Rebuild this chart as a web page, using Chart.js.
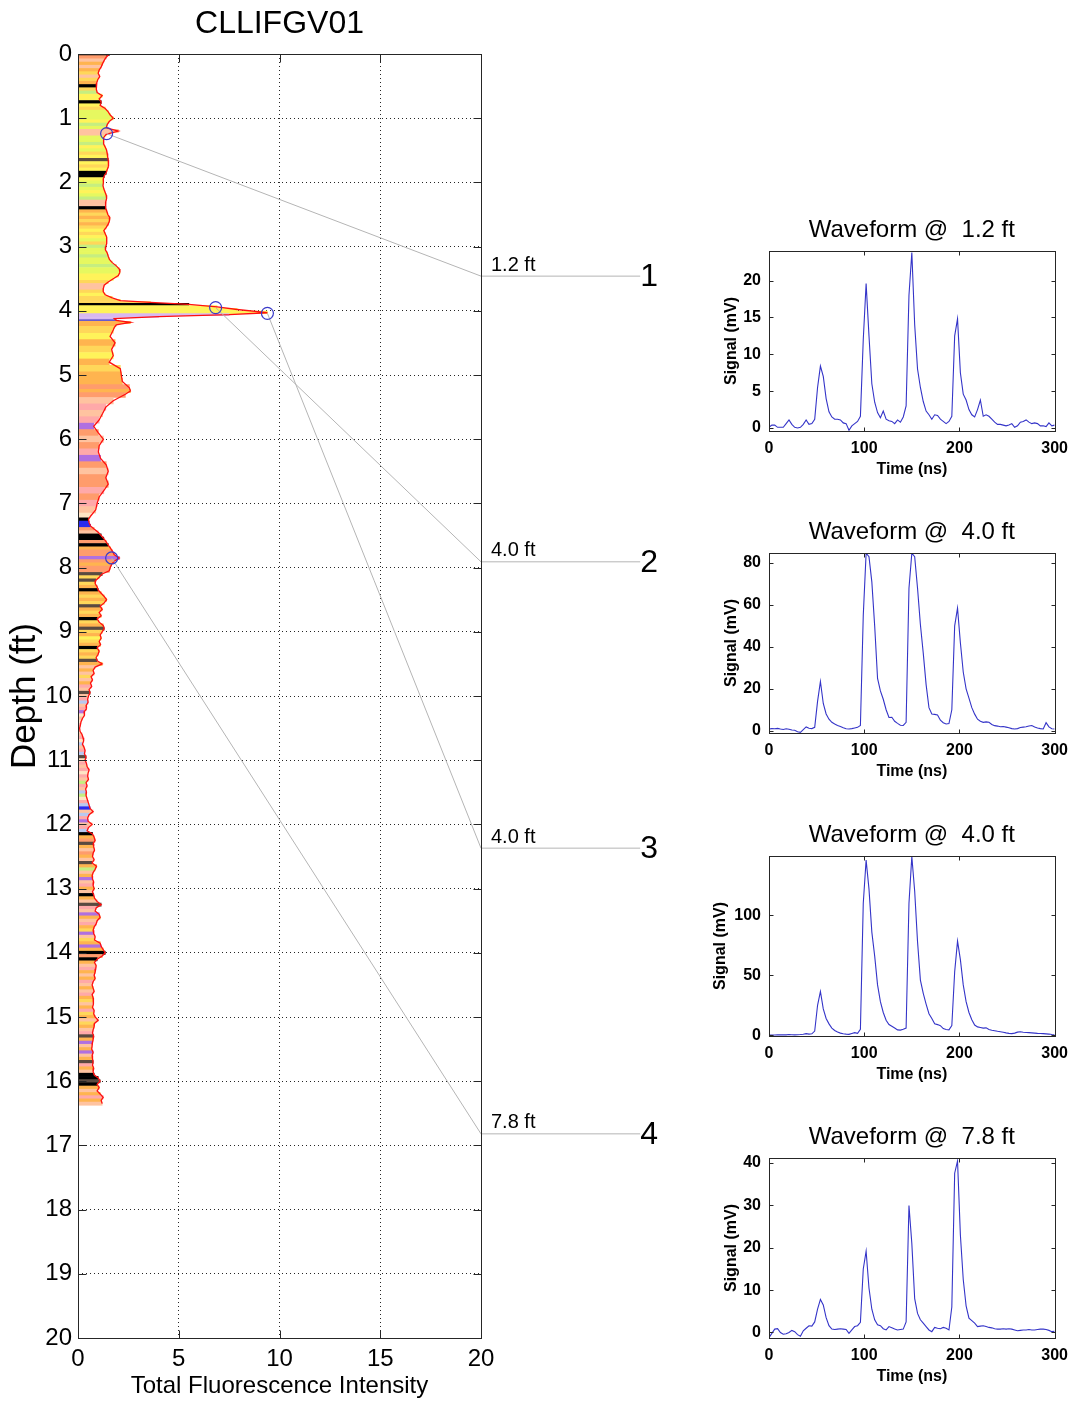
<!DOCTYPE html>
<html><head><meta charset="utf-8">
<script src="https://cdn.jsdelivr.net/npm/chart.js@4.4.1/dist/chart.umd.min.js"></script>
<style>
html,body{margin:0;padding:0;background:#fff;width:1076px;height:1401px;overflow:hidden;position:relative}
canvas{position:absolute;display:block}
</style></head><body>
<canvas id="main" width="680" height="1401" style="left:0;top:0"></canvas>
<canvas id="w0" width="376" height="272" style="left:700px;top:209px"></canvas>
<canvas id="w1" width="376" height="272" style="left:700px;top:511px"></canvas>
<canvas id="w2" width="376" height="272" style="left:700px;top:814px"></canvas>
<canvas id="w3" width="376" height="272" style="left:700px;top:1116px"></canvas>
<script>
// ---------------- DATA ----------------
const depth = [
0,0.05,0.1,0.15,0.2,0.25,0.3,0.35,0.4,0.45,
0.5,0.55,0.6,0.65,0.7,0.75,0.8,0.85,0.9,0.95,
1,1.05,1.1,1.15,1.2,1.25,1.3,1.35,1.4,1.45,
1.5,1.55,1.6,1.65,1.7,1.75,1.8,1.85,1.9,1.95,
2,2.05,2.1,2.15,2.2,2.25,2.3,2.35,2.4,2.45,
2.5,2.55,2.6,2.65,2.7,2.75,2.8,2.85,2.9,2.95,
3,3.05,3.1,3.15,3.2,3.25,3.3,3.35,3.4,3.45,
3.5,3.55,3.6,3.65,3.7,3.75,3.8,
3.84,3.87,3.9,3.94,3.98,4.03,4.06,4.09,4.12,4.15,4.18,4.22,4.26,
4.3,4.4,4.5,4.6,4.7,4.8,4.9,5,5.1,5.2,5.25,5.3,5.4,5.5,5.6,5.7,5.8,5.9,6,6.1,
6.2,6.3,6.4,6.5,6.6,6.7,6.8,6.9,7,7.1,7.2,7.25,7.3,7.35,7.4,7.45,
7.5,7.55,7.6,7.65,7.7,7.75,7.8,7.85,7.9,7.95,8,8.05,8.1,8.15,8.2,8.25,8.3,8.35,8.4,8.45,
8.5,8.55,8.6,8.65,8.7,8.75,8.8,8.85,8.9,8.95,9,9.05,9.1,9.15,9.2,9.25,9.3,9.35,9.4,9.45,
9.5,9.55,9.6,9.65,9.7,9.75,9.8,9.85,9.9,9.95,10,10.05,10.1,10.15,10.2,10.25,10.3,10.35,10.4,10.45,
10.5,10.55,10.6,10.65,10.7,10.75,10.8,10.85,10.9,10.95,11,11.05,11.1,11.15,11.2,11.25,11.3,11.35,11.4,11.45,
11.5,11.55,11.6,11.65,11.7,11.75,11.8,11.85,11.9,11.95,12,12.05,12.1,12.15,12.2,12.25,12.3,12.35,12.4,12.45,
12.5,12.55,12.6,12.65,12.7,12.75,12.8,12.85,12.9,12.95,13,13.05,13.1,13.15,13.2,13.25,13.3,13.35,13.4,13.45,
13.5,13.55,13.6,13.65,13.7,13.75,13.8,13.85,13.9,13.95,14,14.05,14.1,14.15,14.2,14.25,14.3,14.35,14.4,14.45,
14.5,14.55,14.6,14.65,14.7,14.75,14.8,14.85,14.9,14.95,15,15.05,15.1,15.15,15.2,15.25,15.3,15.35,15.4,15.45,
15.5,15.55,15.6,15.65,15.7,15.75,15.8,15.85,15.9,15.95,16,16.05,16.1,16.15,16.2,16.25,16.3,16.35
];
const intensity = [
1.55,1.40,1.30,1.22,1.15,1.05,1.00,1.08,0.98,0.93,
0.92,0.90,0.95,1.20,1.05,1.15,1.10,1.35,1.50,1.60,
1.75,1.55,1.45,1.40,2.00,1.40,1.28,1.26,1.28,1.35,
1.42,1.45,1.47,1.50,1.52,1.51,1.45,1.40,1.30,1.25,
1.26,1.24,1.28,1.34,1.40,1.42,1.38,1.36,1.38,1.43,
1.48,1.58,1.56,1.50,1.40,1.28,1.35,1.42,1.43,1.42,
1.38,1.36,1.45,1.50,1.56,1.70,1.90,2.05,2.08,2.00,
1.75,1.50,1.30,1.26,1.25,1.35,1.70,
2.10,3.60,5.50,6.90,7.90,9.40,7.50,4.00,1.80,1.90,2.60,1.90,1.80,
1.75,1.59,1.84,1.67,1.75,1.55,2.10,2.15,2.20,2.55,2.60,2.35,1.75,1.38,1.22,1.05,0.78,1.01,1.26,1.05,
1.01,1.12,1.40,1.50,1.38,1.50,1.28,1.05,0.95,0.88,0.62,0.52,0.55,0.62,0.80,1.00,
1.15,1.28,1.40,1.50,1.62,1.72,1.80,2.05,1.80,1.67,1.60,1.55,1.20,1.05,0.88,0.85,0.95,1.00,1.15,1.30,
1.42,1.30,1.10,1.20,1.05,1.15,0.95,1.05,1.25,1.30,1.20,1.10,1.15,1.05,1.12,0.95,1.05,1.00,0.90,0.95,
1.20,0.85,0.75,0.80,0.65,0.72,0.62,0.68,0.55,0.60,0.52,0.48,0.50,0.40,0.42,0.30,0.32,0.22,0.15,0.12,
0.08,0.10,0.20,0.25,0.28,0.22,0.30,0.35,0.32,0.40,0.35,0.42,0.45,0.55,0.50,0.48,0.52,0.40,0.45,0.38,
0.42,0.40,0.45,0.50,0.55,0.60,0.75,0.55,0.48,0.50,0.70,0.52,0.45,0.72,0.80,0.85,0.75,0.78,0.82,0.75,
0.72,0.80,0.70,0.92,0.85,0.75,0.70,0.72,0.78,0.75,0.80,0.72,0.78,0.82,0.95,1.15,0.90,0.85,1.05,1.10,
0.95,0.90,0.80,0.75,0.78,0.85,0.82,1.10,1.15,1.25,1.35,1.20,0.95,0.82,0.90,0.88,0.85,0.80,0.85,0.75,
0.70,0.75,0.80,0.70,0.75,0.78,0.75,0.72,0.80,0.78,0.85,1.00,0.82,0.80,0.75,0.72,0.78,0.75,0.72,0.70,
0.68,0.75,0.70,0.72,0.75,0.72,0.78,0.75,0.80,1.00,1.10,0.95,1.05,0.95,1.10,1.25,1.15,1.20
];
// stripe class per depth sample (colour legend of the waveform type)
const stripeClass = (
"KSPOPOGPGO"+"KGNYYKYGLL"+"LYNLPPLLNY"+"LGYDYGYKKY"+"LNLYLNPPKO"+"GOGOGYGYLG"+"NLLNLLNLLY"+"YGPPGYG"+
"GGKYYYVVVUOOG"+
"GYOGYOGOOS"+"OSPRPRMSPS"+"RMSPSSRSRP"+"WKBBSP"+
"KKSKOSSMSOSSDGDGOKOG"+"OGDOGOKGODGOYGOKGOGD"+"OPOPGPORPDPRCPRMWPWR"+"WWPRWCPRCDWRPRWRPNRP"+
"CNWRCBPCRMPRCKOSDOPS"+"OPDONPOMPROPKOPDRPMO"+"PROGMPGOMOKSKOPROPOR"+"POPROGPORGOPGOPRDOMP"+
"OMPODROPKKDKOPOROP").split('');

const sampleDepths = [1.24, 3.95, 4.04, 7.85];
const sampleIntensity = [1.42, 6.83, 9.40, 1.67];
const sampleNames = ['1.2 ft', '4.0 ft', '4.0 ft', '7.8 ft'];
const calloutDepths = [3.46, 7.91, 12.37, 16.82];
const calloutEndX = 27.9;

const time = [
0,3,6,9,12,15,18,21,24,27,30,33,36,39,42,45,48,51,54,57,
60,63,66,69,72,75,78,81,84,87,90,93,96,99,102,105,108,111,114,117,
120,123,126,129,132,135,138,141,144,147,150,153,156,159,162,165,168,171,174,177,
180,183,186,189,192,195,198,201,204,207,210,213,216,219,222,225,228,231,234,237,
240,243,246,249,252,255,258,261,264,267,270,273,276,279,282,285,288,291,294,297,300
];
const wave1 = [
0.1,0.4,0.4,0.1,0.1,0.1,0.6,1.1,0.5,0.1,
0.0,0.1,0.5,1.1,0.5,0.6,1.2,5.5,8.4,7.0,
4.0,2.2,1.5,1.2,1.2,1.1,0.7,0.6,-0.3,0.3,
0.6,0.9,1.6,12.0,19.6,12.5,6.0,3.5,2.1,1.4,
2.3,1.2,1.0,0.9,0.6,1.1,0.8,1.5,3.0,18.0,
23.8,14.0,8.0,5.5,3.6,2.3,1.8,1.2,1.8,1.7,
1.2,0.9,0.6,0.9,1.6,12.5,14.8,7.5,4.6,3.8,
2.5,1.8,1.5,2.5,3.8,1.6,1.8,1.6,1.2,0.8,
0.5,0.5,0.4,0.3,0.4,0.6,0.1,0.3,0.8,0.9,
1.1,0.8,0.6,0.7,0.6,0.3,0.3,0.2,0.7,0.3,
0.4];
const wave2 = [
0.8,1.0,0.9,1.1,0.8,0.6,0.9,0.7,0.3,0.2,
-0.5,-0.8,0.5,1.8,1.2,1.0,1.6,14.0,23.5,13.0,
8.0,5.5,4.0,3.2,2.5,2.0,1.4,0.9,0.8,1.0,
1.3,1.6,2.5,55.0,84.7,83.0,71.0,50.0,25.0,19.0,
15.0,10.0,6.3,6.4,4.5,3.5,2.6,2.5,4.0,68.0,
84.7,83.0,68.0,50.7,37.0,22.0,11.0,8.0,7.8,7.5,
5.0,3.8,3.2,3.4,10.0,50.0,58.5,42.0,28.0,20.0,
15.5,11.0,7.9,5.5,4.5,4.0,4.2,4.0,3.0,2.4,
2.2,1.9,2.0,1.7,1.4,1.0,0.8,1.0,1.5,1.7,
1.9,2.2,2.5,1.8,1.3,1.0,0.8,3.8,1.8,0.9,
0.8];
const wave3 = [
0.2,0.1,0.2,0.4,0.3,0.5,0.3,0.6,0.4,0.3,
0.5,0.6,0.8,1.4,1.0,1.2,3.5,25.0,36.5,22.0,
14.0,9.5,6.0,4.0,2.8,1.8,1.3,1.0,0.8,1.5,
2.2,1.6,5.0,110.0,146.0,122.0,86.0,66.0,42.0,28.0,
19.0,12.5,9.0,7.5,6.0,4.5,4.3,5.0,6.0,110.0,
149.0,120.0,78.0,46.0,35.0,26.0,18.0,14.0,9.5,8.9,
8.0,5.6,4.8,4.5,8.0,53.0,78.5,63.0,42.0,28.0,
19.0,13.0,8.5,7.0,6.5,6.0,6.2,4.8,4.2,3.8,
3.3,2.9,2.5,2.0,1.6,1.4,1.8,2.6,2.9,2.5,
2.3,2.2,2.0,1.8,1.6,1.5,1.4,1.2,1.0,0.6,
0.5];
const wave4 = [
-1.2,-0.2,0.8,0.9,0.0,-0.4,-0.3,0.0,0.5,0.2,
-0.5,-0.9,0.4,1.0,1.6,1.5,2.5,5.5,7.8,6.5,
3.5,1.6,0.8,0.7,0.8,0.9,0.8,0.7,-0.2,0.6,
1.4,1.6,2.4,15.0,19.2,10.5,5.5,3.0,1.8,1.6,
0.9,0.6,1.4,1.1,0.8,0.6,0.7,0.8,2.5,30.0,
21.0,8.0,4.5,3.0,2.2,1.4,0.6,0.2,1.2,1.0,
0.9,1.2,1.0,0.6,6.0,37.6,40.5,23.0,12.5,6.3,
3.4,2.8,2.2,1.4,1.5,1.6,1.4,1.2,1.1,0.9,
0.8,0.8,0.9,0.8,0.9,0.8,0.6,0.4,0.5,0.6,
0.6,0.7,0.6,0.6,0.7,0.8,0.8,0.7,0.5,0.2,
0.3];
const waves = [wave1, wave2, wave3, wave4];
const waveYMin = [-0.4, -1.1, -0.6, -1.3];
const waveYMax = [24, 84.8, 149.4, 41.2];
const waveYTicks = [
  [0, 5, 10, 15, 20],
  [0, 20, 40, 60, 80],
  [0, 50, 100],
  [0, 10, 20, 30, 40]
];
const timeTicks = [0, 100, 200, 300];

// ---------------- STYLE ----------------
const palette = {
  K:'#000000', Y:'#FFF35A', G:'#FFD75A', L:'#E6F860', N:'#C6EE80', O:'#FFB44F',
  S:'#FF9C6C', P:'#FFC3A0', R:'#FFA9A9', M:'#B070E0', U:'#6A5ACD', B:'#2A2AF0',
  V:'#D8B8F0', C:'#B8C8F0', D:'#5a4a40', W:'#FFE4C4'
};
const signalTitlePad = [22, 22, 11, 22];
const FONT = "'Liberation Sans', Arial, Helvetica, sans-serif";
Chart.defaults.font.family = FONT;
Chart.defaults.color = '#000';

const framePlugin = {
  id: 'frame',
  afterDatasetsDraw(chart, args, opts) {
    const {ctx, chartArea: a, scales: {x, y}} = chart;
    const L = opts.tick || 5;
    ctx.save();
    ctx.strokeStyle = '#262626';
    ctx.lineWidth = 1;
    const l = Math.round(a.left) + 0.5, t = Math.round(a.top) + 0.5;
    const r = Math.round(a.right) + 0.5, b = Math.round(a.bottom) + 0.5;
    ctx.beginPath();
    x.ticks.forEach(tk => {
      const px = Math.round(x.getPixelForValue(tk.value)) + 0.5;
      ctx.moveTo(px, t); ctx.lineTo(px, t + L);
      ctx.moveTo(px, b); ctx.lineTo(px, b - L);
    });
    y.ticks.forEach(tk => {
      const py = Math.round(y.getPixelForValue(tk.value)) + 0.5;
      ctx.moveTo(l, py); ctx.lineTo(l + L, py);
      ctx.moveTo(r, py); ctx.lineTo(r - L, py);
    });
    ctx.stroke();
    ctx.strokeRect(l, t, r - l, b - t);
    ctx.restore();
  }
};

const calloutPlugin = {
  id: 'callouts',
  afterDraw(chart) {
    const {ctx, scales: {x, y}} = chart;
    ctx.save();
    ctx.fillStyle = '#000';
    ctx.textBaseline = 'middle';
    calloutDepths.forEach((d, i) => {
      const py = y.getPixelForValue(d);
      ctx.font = '20px ' + FONT;
      ctx.textAlign = 'left';
      ctx.fillText(sampleNames[i], x.getPixelForValue(x.max) + 10, py - 11);
      ctx.font = '32px ' + FONT;
      ctx.textAlign = 'center';
      ctx.fillText(String(i + 1), x.getPixelForValue(calloutEndX) + 9, py + 1);
    });
    ctx.restore();
  }
};

// ---------------- MAIN CHART ----------------
const datasets = [];
datasets.push({
  type: 'line', indexAxis: 'y', showLine: false,
  data: sampleDepths.map((d, i) => ({x: sampleIntensity[i], y: d})),
  pointRadius: 6, pointBorderWidth: 1.2, pointBorderColor: '#3a3ac8',
  pointBackgroundColor: 'rgba(0,0,0,0)'
});
calloutDepths.forEach((cd, i) => {
  datasets.push({
    type: 'line', indexAxis: 'y', clip: false,
    data: [{x: sampleIntensity[i], y: sampleDepths[i]}, {x: 20, y: cd}, {x: calloutEndX, y: cd}],
    borderColor: '#b5b5b5', borderWidth: 1, pointRadius: 0, tension: 0
  });
});
datasets.push({
  type: 'line', indexAxis: 'y',
  data: depth.map((d, i) => ({x: intensity[i], y: d})),
  borderColor: '#ff1010', borderWidth: 1.3, pointRadius: 0, tension: 0
});
datasets.push({
  type: 'bar', indexAxis: 'y',
  data: depth.map((d, i) => ({x: intensity[i], y: d})),
  backgroundColor: stripeClass.map(c => palette[c]),
  borderWidth: 0, barThickness: 'flex', categoryPercentage: 1, barPercentage: 1
});

new Chart(document.getElementById('main'), {
  type: 'bar',
  data: { datasets },
  options: {
    indexAxis: 'y', responsive: false, animation: false, events: [],
    layout: { padding: { left: 0, right: 199, top: 0, bottom: 0 } },
    plugins: {
      legend: { display: false }, tooltip: { enabled: false },
      title: { display: true, text: 'CLLIFGV01', fullSize: false, color: '#000',
               font: { size: 32, weight: 'normal' }, padding: { top: 4.8, bottom: 10.8 } },
      frame: { tick: 8 }
    },
    scales: {
      x: {
        type: 'linear', position: 'bottom', min: 0, max: 20, offset: false,
        ticks: { stepSize: 5, font: { size: 24 }, padding: 7, maxRotation: 0, color: '#000' },
        grid: { color: 'rgba(0,0,0,0.85)', lineWidth: 1, drawTicks: false, offset: false, borderDash: [1, 3] },
        border: { display: false, dash: [1, 3] },
        title: { display: true, text: 'Total Fluorescence Intensity', font: { size: 24 }, color: '#000', padding: { top: 0, bottom: 0 } },
        afterFit: s => { s.height = 63; }
      },
      y: {
        type: 'linear', position: 'left', min: 0, max: 20, reverse: true, offset: false,
        ticks: { stepSize: 1, font: { size: 24 }, padding: 6, color: '#000' },
        grid: { color: 'rgba(0,0,0,0.85)', lineWidth: 1, drawTicks: false, offset: false, borderDash: [1, 3] },
        border: { display: false, dash: [1, 3] },
        title: { display: true, text: 'Depth (ft)', font: { size: 35 }, color: '#000', padding: { top: 4, bottom: 0 } },
        afterFit: s => { s.width = 78; }
      }
    }
  },
  plugins: [framePlugin, calloutPlugin]
});

// ---------------- WAVEFORM CHARTS ----------------
waves.forEach((w, i) => {
  new Chart(document.getElementById('w' + i), {
    type: 'line',
    data: { datasets: [{
      data: time.map((t, k) => ({x: t, y: w[k]})),
      borderColor: '#3434c8', borderWidth: 1.1, pointRadius: 0, tension: 0
    }] },
    options: {
      responsive: false, animation: false, events: [],
      layout: { padding: { left: 0, right: 19, top: 0, bottom: 0 } },
      plugins: {
        legend: { display: false }, tooltip: { enabled: false },
        title: { display: true, text: 'Waveform @  ' + sampleNames[i], fullSize: false, color: '#000',
                 font: { size: 24, weight: 'normal' }, padding: { top: 6.6, bottom: 6.6 } },
        frame: { tick: 4 }
      },
      scales: {
        x: {
          type: 'linear', min: 0, max: 300,
          afterBuildTicks: s => { s.ticks = timeTicks.map(v => ({value: v})); },
          ticks: { font: { size: 16, weight: 'bold' }, padding: 8, maxRotation: 0, color: '#000' },
          grid: { display: false, drawTicks: false },
          border: { display: false },
          title: { display: true, text: 'Time (ns)', font: { size: 16, weight: 'bold' }, color: '#000', padding: { top: 0, bottom: 2 } },
          afterFit: s => { s.height = 50; }
        },
        y: {
          type: 'linear', min: waveYMin[i], max: waveYMax[i],
          afterBuildTicks: s => { s.ticks = waveYTicks[i].map(v => ({value: v})); },
          ticks: { font: { size: 16, weight: 'bold' }, padding: 8, color: '#000' },
          grid: { display: false, drawTicks: false },
          border: { display: false },
          title: { display: true, text: 'Signal (mV)', font: { size: 16, weight: 'bold' }, color: '#000', padding: { top: signalTitlePad[i], bottom: 0 } },
          afterFit: s => { s.width = 69; }
        }
      }
    },
    plugins: [framePlugin]
  });
});
</script>
</body></html>
